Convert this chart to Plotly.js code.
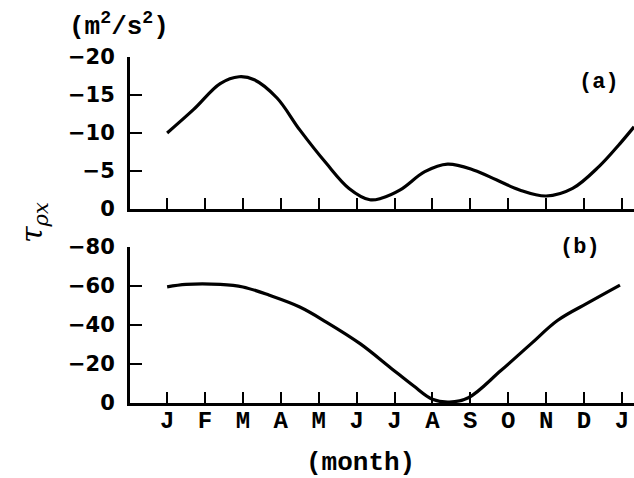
<!DOCTYPE html>
<html>
<head>
<meta charset="utf-8">
<script src="https://cdn.plot.ly/plotly-3.0.1.min.js"></script>
<style>html,body{margin:0;padding:0;background:#fff;}#chart{width:634px;height:478px;}</style>
</head>
<body>
<div id="chart"></div>
<script>
// Month positions (0 = January ... 12 = next January)
const monthTickVals = [0,1,2,3,4,5,6,7,8,9,10,11,12];
const monthTickText = ['J','F','M','A','M','J','J','A','S','O','N','D','J'];

// Panel (a): tau_px in m^2/s^2
const monthA = [0, 0.7, 1.4, 1.9, 2.3, 2.9, 3.5, 4.2, 4.8, 5.35, 5.65, 6.15, 6.8, 7.4, 8.1, 8.7, 9.3, 10.0, 10.7, 11.4, 11.95, 12.32];
const tauA   = [-10, -13.1, -16.5, -17.4, -17.0, -14.6, -10.4, -6.0, -2.7, -1.2, -1.4, -2.5, -4.9, -5.9, -5.1, -3.8, -2.5, -1.7, -2.7, -5.6, -8.6, -10.8];

// Panel (b)
const monthB = [0, 0.5, 1.4, 2.0, 2.7, 3.5, 4.2, 5.1, 5.9, 6.5, 7.0, 7.45, 7.95, 8.8, 9.6, 10.3, 11.15, 11.95];
const tauB   = [-59.5, -60.8, -60.8, -59.5, -55.2, -49.2, -41.5, -30.3, -18, -8.8, -1.9, -0.5, -2.7, -16.5, -30.3, -42.3, -51.8, -60.4];

// Tick labels
const yTickValsA = [0, -5, -10, -15, -20];
const yTickTextA = ['0', '\u22125', '\u221210', '\u221215', '\u221220'];
const yTickValsB = [0, -20, -40, -60, -80];
const yTickTextB = ['0', '\u221220', '\u221240', '\u221260', '\u221280'];

const lineStyle = {color: '#000', width: 3.2, shape: 'spline', smoothing: 1};

const traces = [
  {x: monthA, y: tauA, xaxis: 'x2', yaxis: 'y2', mode: 'lines', line: lineStyle, hoverinfo: 'skip'},
  {x: monthB, y: tauB, xaxis: 'x', yaxis: 'y', mode: 'lines', line: lineStyle, hoverinfo: 'skip'}
];

const monoBold = {family: 'Liberation Mono, Courier New, monospace', size: 24, color: '#000', weight: 'bold'};
const sansBold = {family: 'DejaVu Sans, sans-serif', size: 21, color: '#000', weight: 'bold'};

const xRange = [-0.98, 12.32];
const commonX = {
  range: xRange, showgrid: false, zeroline: false, showline: true, linecolor: '#000', linewidth: 3,
  tickmode: 'array', tickvals: monthTickVals, ticks: 'inside', ticklen: 11, tickwidth: 2, tickcolor: '#000'
};
const commonY = {
  showgrid: false, zeroline: false, showline: true, linecolor: '#000', linewidth: 3,
  tickmode: 'array', ticks: 'inside', ticklen: 12, tickwidth: 2, tickcolor: '#000',
  tickfont: sansBold, ticklabelstandoff: 8
};

const layout = {
  width: 634, height: 478,
  margin: {l: 130, r: 0, t: 57, b: 75},
  paper_bgcolor: '#fff', plot_bgcolor: '#fff',
  showlegend: false,
  xaxis: Object.assign({}, commonX, {anchor: 'y', ticktext: monthTickText, tickfont: monoBold, ticklabelstandoff: -7}),
  xaxis2: Object.assign({}, commonX, {anchor: 'y2', showticklabels: false}),
  yaxis: Object.assign({}, commonY, {domain: [0, 0.451], range: [0, -80], tickvals: yTickValsB, ticktext: yTickTextB}),
  yaxis2: Object.assign({}, commonY, {domain: [0.561, 1], range: [0, -20], tickvals: yTickValsA, ticktext: yTickTextA}),
  annotations: [
    {xref: 'paper', yref: 'paper', x: -0.0218, y: 1.0925, xanchor: 'center', yanchor: 'middle', showarrow: false,
     text: '(m<sup>2</sup>/s<sup>2</sup>)', font: {family: 'Liberation Mono, monospace', size: 26, color: '#000', weight: 'bold'}},
    {xref: 'paper', yref: 'paper', x: 0.9306, y: 0.9277, xanchor: 'center', yanchor: 'middle', showarrow: false,
     text: '(a)', font: {family: 'Liberation Mono, monospace', size: 22, color: '#000', weight: 'bold'}},
    {xref: 'paper', yref: 'paper', x: 0.893, y: 0.448, xanchor: 'center', yanchor: 'middle', showarrow: false,
     text: '(b)', font: {family: 'Liberation Mono, monospace', size: 22, color: '#000', weight: 'bold'}},
    {xref: 'paper', yref: 'paper', x: 0.458, y: -0.173, xanchor: 'center', yanchor: 'middle', showarrow: false,
     text: '(month)', font: {family: 'Liberation Mono, monospace', size: 26, color: '#000', weight: 'bold'}},
    {xref: 'paper', yref: 'paper', x: -0.1925, y: 0.523, xanchor: 'center', yanchor: 'middle', showarrow: false, textangle: -90,
     text: '\u03c4<sub>\u03c1x</sub>', font: {family: 'DejaVu Serif, serif', size: 30, color: '#000', style: 'italic'}}
  ]
};

Plotly.newPlot('chart', traces, layout, {staticPlot: true, displayModeBar: false});
</script>
</body>
</html>
